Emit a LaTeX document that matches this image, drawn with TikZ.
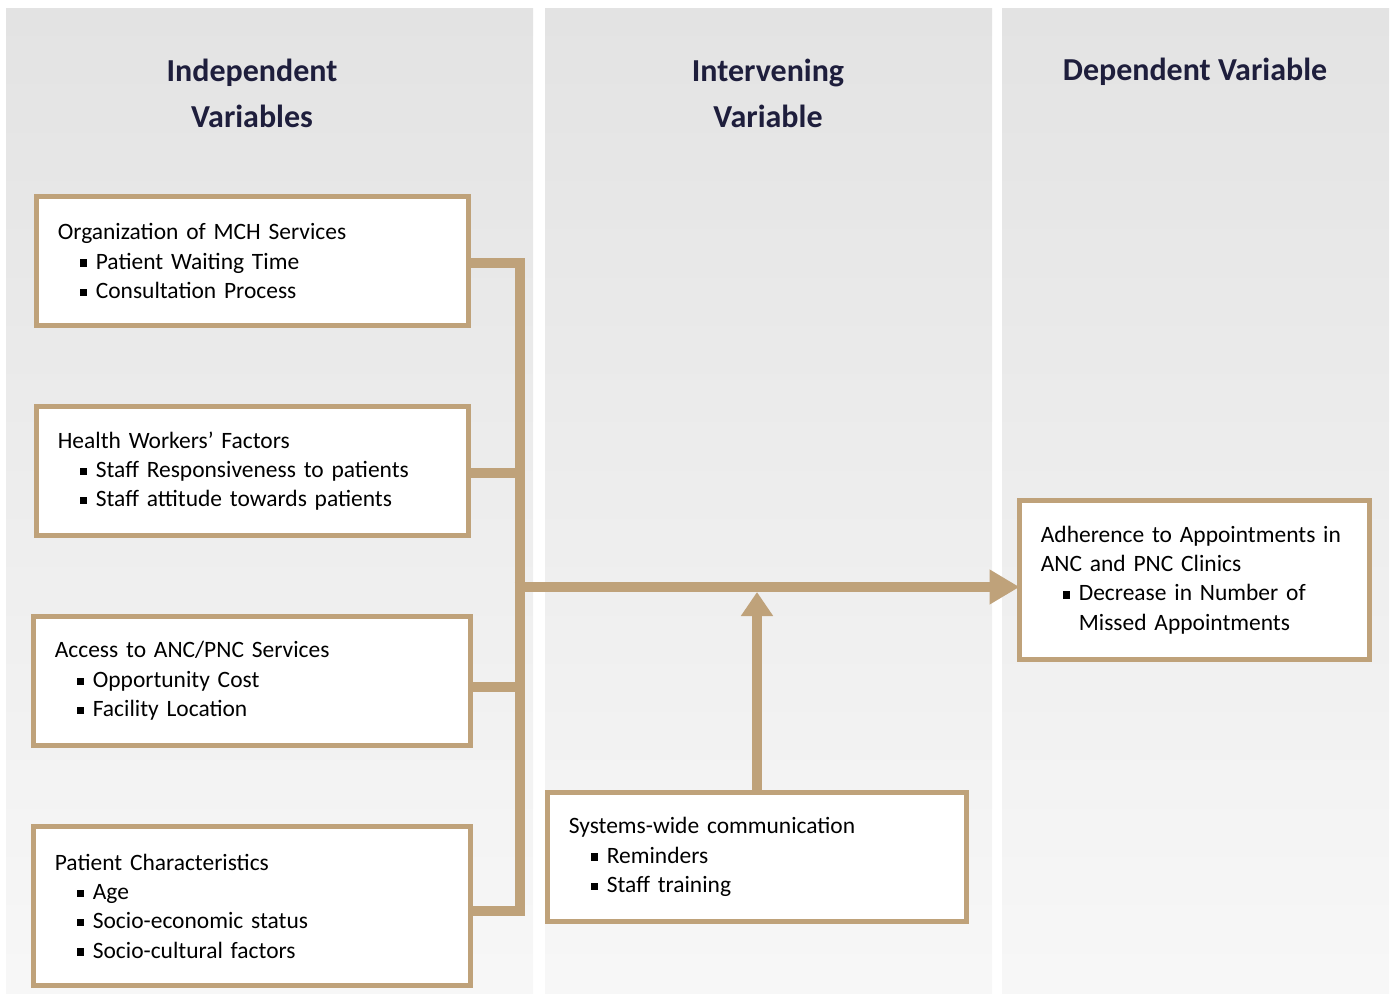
\documentclass[tikz,border=0pt]{standalone}
\usepackage{fontspec}
\setmainfont{Carlito}
\usetikzlibrary{arrows.meta}
\definecolor{tanline}{RGB}{191,162,122}
\definecolor{headnavy}{RGB}{30,30,60}
\newcommand{\bul}{\hspace*{16.5pt}\rule[1.8pt]{5.5pt}{5.5pt}\hspace{6.5pt}}
\newcommand{\hang}{\hspace*{28.5pt}}
\begin{document}
\begin{tikzpicture}[x=0.75pt, y=-0.75pt,
		panel/.style={top color=black!11, middle color=black!5, bottom color=black!3},
		heading/.style={align=center, text=headnavy, font=\bfseries\fontsize{24}{34.5}\selectfont},
		varbox/.style={draw=tanline, fill=white, line width=3.75pt, anchor=north west, outer sep=0pt,
			inner xsep=16pt, align=left, font=\fontsize{17.6}{22}\selectfont},
		link/.style={draw=tanline, line width=7.5pt, line join=miter}]
		\useasboundingbox (0,0) rectangle (1394,994);

		% columns
		\shade[panel] (6,9) rectangle (533,994);
		\shade[panel] (545,9) rectangle (992,994);
		\shade[panel] (1002,9) rectangle (1389,994);

		\node[heading] (hind) at (252,93) {Independent\\Variables};
		\node[heading] (hint) at (768,93) {Intervening\\Variable};
		\node[heading] (hdep) at (1195,72) {Dependent Variable};

		% independent variables
		\node[varbox, minimum width=324pt, minimum height=96.75pt, text width=292pt] (org) at (36.5,196.5)
			{Organization of MCH Services\\\bul Patient Waiting Time\\\bul Consultation Process};
		\node[varbox, minimum width=324pt, minimum height=96.75pt, text width=292pt] (hw) at (36.5,406.5)
			{Health Workers’ Factors\\\bul Staff Responsiveness to patients\\\bul Staff attitude towards patients};
		\node[varbox, minimum width=327.75pt, minimum height=96.75pt, text width=295.75pt] (acc) at (33.5,616.5)
			{Access to ANC/PNC Services\\\bul Opportunity Cost\\\bul Facility Location};
		\node[varbox, minimum width=327.75pt, minimum height=119.25pt, text width=295.75pt] (pat) at (33.5,826.5)
			{Patient Characteristics\\\bul Age\\\bul Socio-economic status\\\bul Socio-cultural factors};

		% intervening and dependent
		\node[varbox, minimum width=314.25pt, minimum height=96.75pt, text width=282.25pt] (sys) at (547.5,792.5)
			{Systems-wide communication\\\bul Reminders\\\bul Staff training};
		\node[varbox, minimum width=262.5pt, minimum height=119.25pt, text width=230.5pt] (adh) at (1019.5,500.5)
			{Adherence to Appointments in\\ANC and PNC Clinics\\\bul Decrease in Number of\\\hang Missed Appointments};

		\coordinate (hub) at (519.5,587);

		\draw[link] ([yshift=-1.5pt]org.east) -| (hub);
		\draw[link] ([yshift=-1.5pt]hw.east) -| (hub);
		\draw[link] ([yshift=-4.5pt]acc.east) -| (hub);
		\draw[link] ([yshift=-3.75pt]pat.east) -| (hub);
		\draw[link, -{Triangle[length=22.5pt, width=24.75pt]}] ([xshift=-3.75pt]hub) -- (hub -| adh.west);
		\draw[link, -{Triangle[length=18pt, width=23pt]}] (sys.north) -- ([yshift=-3.75pt]sys.north |- hub);

	\end{tikzpicture}
\end{document}
